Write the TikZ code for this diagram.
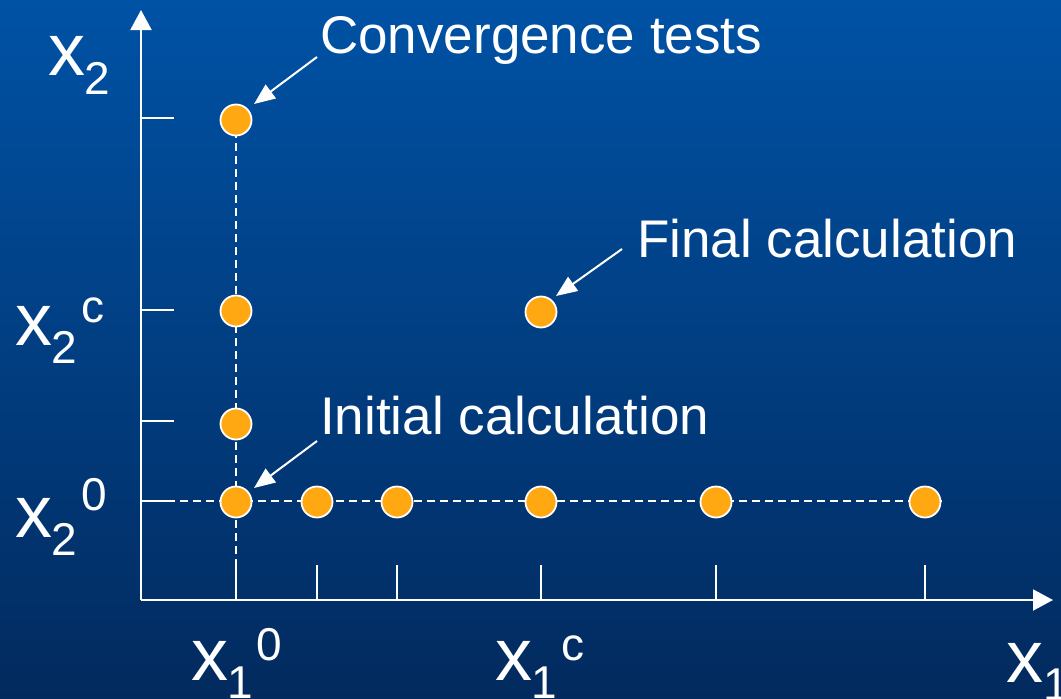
\documentclass[tikz,border=0pt]{standalone}
\usepackage{fontspec}
\setmainfont{Liberation Sans}
\usetikzlibrary{arrows.meta}
\definecolor{bgtop}{RGB}{0,82,165}
\definecolor{bgmid}{RGB}{0,70,145}
\definecolor{bgbot}{RGB}{2,42,94}
\definecolor{dotc}{RGB}{255,168,18}
\begin{document}
\begin{tikzpicture}[x=1pt,y=-1pt,
  axisline/.style={draw=white, line width=2pt, -{Triangle[length=20pt,width=21pt]}},
  tickline/.style={draw=white, line width=1.5pt},
  guide/.style={draw=white, line width=1.5pt, dash pattern=on 8pt off 5pt},
  dotnode/.style={circle, fill=dotc, draw=white, line width=1.8pt, minimum size=31pt, inner sep=0pt},
  callout/.style={draw=white, line width=2pt, -{Triangle[length=21pt,width=17pt]}},
  lbl/.style={text=white, inner sep=0pt, anchor=base west, font=\fontsize{53}{60}\selectfont},
  axv/.style={text=white, inner sep=0pt, anchor=base west, font=\fontsize{74}{80}\selectfont},
  axs/.style={text=white, inner sep=0pt, anchor=base west, font=\fontsize{46}{50}\selectfont}]
\useasboundingbox (0,0) rectangle (1061,699);
\clip (0,0) rectangle (1061,699);
\shade[top color=bgtop, middle color=bgmid, bottom color=bgbot] (0,0) rectangle (1061,699);

% coordinates
\coordinate (O) at (141,600);
\coordinate (ytip) at (141,10);
\coordinate (xtip) at (1053,600);
\coordinate (vtop) at (236,104);
\coordinate (vbot) at (236,600);
\coordinate (hl) at (141,501);
\coordinate (hr) at (942,501);

% guides
\draw[guide] (vtop) -- (vbot);
\draw[guide] (hl) -- (hr);

% y ticks
\foreach \y/\n in {118/ya,310/yb,421/yc,501/yd}{
  \coordinate (\n0) at (141,\y);
  \coordinate (\n1) at (174,\y);
  \draw[tickline] (\n0) -- (\n1);
}
% x ticks
\foreach \x/\n in {236/xa,317/xb,397/xc,541/xd,716/xe,925/xf}{
  \coordinate (\n0) at (\x,600);
  \coordinate (\n1) at (\x,565);
  \draw[tickline] (\n0) -- (\n1);
}

% axes
\draw[axisline] (O) -- (ytip);
\draw[axisline] (O) -- (xtip);

% dots
\node[dotnode] (d1) at (236,120) {};
\node[dotnode] (d2) at (236,311) {};
\node[dotnode] (d3) at (236,424) {};
\node[dotnode] (d4) at (236,502) {};
\node[dotnode] (d5) at (317,502) {};
\node[dotnode] (d6) at (397,502) {};
\node[dotnode] (d7) at (541,502) {};
\node[dotnode] (d8) at (716,502) {};
\node[dotnode] (d9) at (925,502) {};
\node[dotnode] (d10) at (541,312) {};

% labels
\node[lbl] (conv) at (320,53) {Convergence tests};
\node[lbl] (final) at (637,257) {Final calculation};
\node[lbl] (init) at (320,434) {Initial calculation};

% callouts
\coordinate (cs) at (317,57);
\coordinate (ct) at (254,104);
\coordinate (fs) at (622,249);
\coordinate (ft) at (556,296);
\coordinate (is) at (317,441);
\coordinate (it) at (254,488);
\draw[callout] (cs) -- (ct);
\draw[callout] (fs) -- (ft);
\draw[callout] (is) -- (it);

% axis labels
\node[axv] (x2a) at (48,75) {x};
\node[axs] (x2b) at (84,94) {2};

\node[axv] (xca) at (15,345) {x};
\node[axs] (xcb) at (51,363) {2};
\node[axs] (xcc) at (81,322) {c};

\node[axv] (x0a) at (15,537) {x};
\node[axs] (x0b) at (51,555) {2};
\node[axs] (x0c) at (81,510) {0};

\node[axv] (y0a) at (191,680) {x};
\node[axs] (y0b) at (227,698) {1};
\node[axs] (y0c) at (256,660) {0};

\node[axv] (yca) at (495,680) {x};
\node[axs] (ycb) at (531,698) {1};
\node[axs] (ycc) at (561,660) {c};

\node[axv] (x1a) at (1006,682) {x};
\node[axs] (x1b) at (1043,700) {1};
\end{tikzpicture}
\end{document}
